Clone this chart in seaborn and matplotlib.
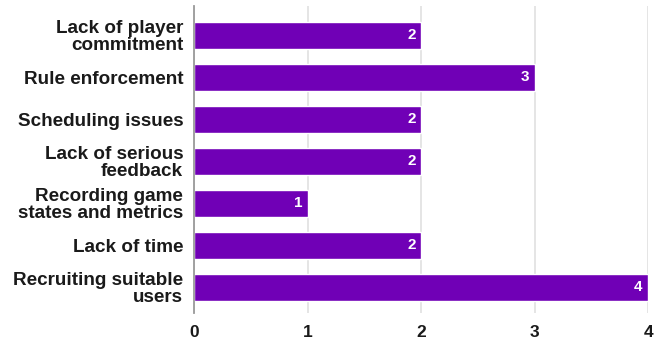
import matplotlib
matplotlib.use("Agg")
import matplotlib.pyplot as plt
import seaborn as sns
import pandas as pd

categories = [
    "Lack of player\ncommitment",
    "Rule enforcement",
    "Scheduling issues",
    "Lack of serious\nfeedback",
    "Recording game\nstates and metrics",
    "Lack of time",
    "Recruiting suitable\nusers",
]
counts = [2, 3, 2, 2, 1, 2, 4]
x_ticks = [0, 1, 2, 3, 4]

bar_color = "#7000B6"

sns.set_theme(style="white")
plt.rcParams["font.family"] = ["Liberation Sans", "DejaVu Sans"]

df = pd.DataFrame({"challenge": categories, "count": counts})

fig = plt.figure(figsize=(6.64, 3.45), dpi=100)
ax = fig.add_axes([0.2926, 0.0928, 0.6838, 0.8898])

sns.barplot(data=df, x="count", y="challenge", orient="h", color=bar_color,
            saturation=1, width=0.655, ax=ax, zorder=3)

ax.set_xlim(0, 4)
ax.set_ylim(6.61, -0.70)
ax.set_xticks(x_ticks)
ax.set_xticklabels([str(t) for t in x_ticks], fontsize=12.5, fontweight="bold",
                   color="#1a1a1a")
ax.set_yticks(range(len(categories)))
ax.set_yticklabels(categories, fontsize=13.6, fontweight="bold",
                   color="#1a1a1a", linespacing=0.98)
ax.tick_params(axis="x", length=0, pad=9)
ax.tick_params(axis="y", length=0, pad=8)
ax.set_xlabel("")
ax.set_ylabel("")

ax.grid(axis="x", color="#e0e0e0", linewidth=1.2, zorder=0)
ax.grid(axis="y", visible=False)
for side in ["top", "right", "bottom"]:
    ax.spines[side].set_visible(False)
ax.spines["left"].set_color("#9a9a9a")
ax.spines["left"].set_linewidth(1.3)
ax.spines["left"].set_zorder(4)

for patch in ax.patches:
    patch.set_clip_on(False)

for i, v in enumerate(counts):
    ax.text(v - 0.05, i, str(v), ha="right", va="center", color="white",
            fontsize=11, fontweight="bold", zorder=5)

fig.savefig("out.png", dpi=100)
